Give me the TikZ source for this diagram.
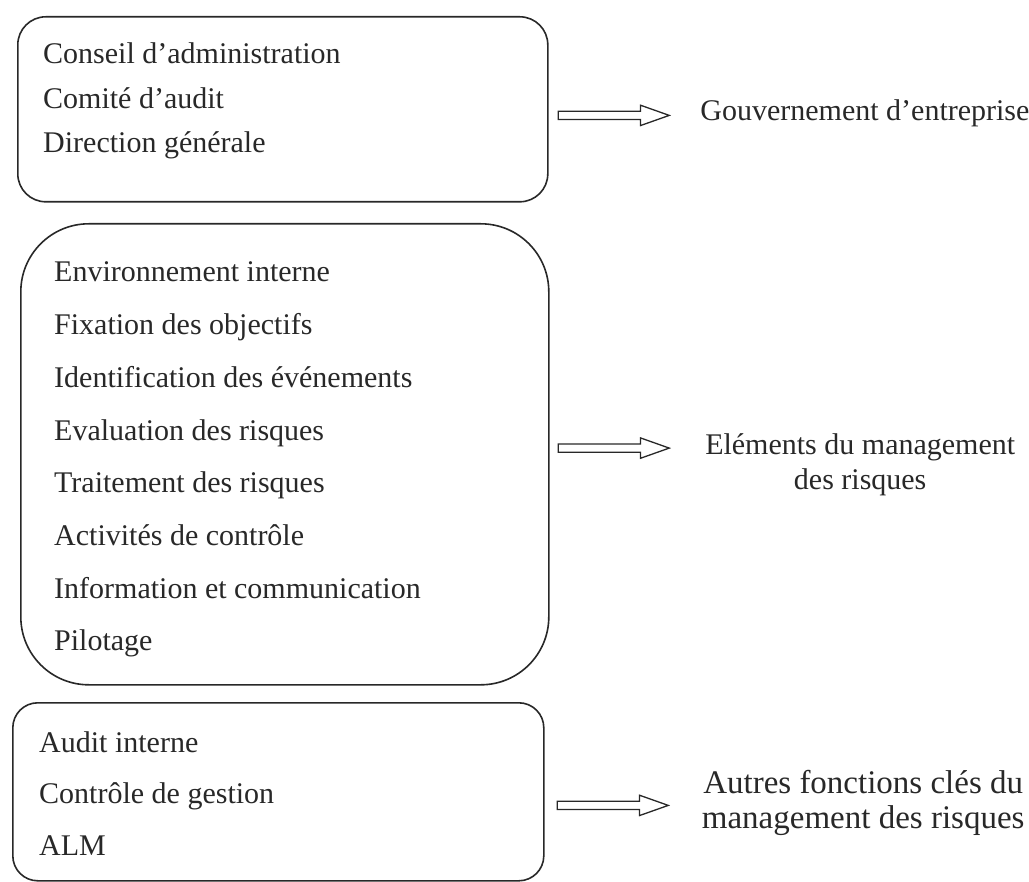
\documentclass[tikz,border=0pt]{standalone}
\usepackage{fontspec}
\setmainfont{Liberation Serif}
\usepackage{tikz}
\usetikzlibrary{shapes,arrows,positioning}
\definecolor{ink}{RGB}{40,40,40}
\tikzstyle{panel} = [rectangle, draw=ink, line width=1.6pt, anchor=north west, inner sep=0pt]
\tikzstyle{item} = [font=\fontsize{30}{36}\selectfont, text=ink, text height=21pt, text depth=7pt, inner sep=0pt, anchor=base west]
\tikzstyle{outtext} = [font=\fontsize{30}{35}\selectfont, text=ink, inner sep=0pt, align=center]
\tikzstyle{fatarrow} = [single arrow, draw=ink, line width=1.3pt, inner xsep=0pt, inner ysep=3.5pt, minimum width=0pt, minimum height=111pt, single arrow head extend=6pt, single arrow tip angle=39, anchor=tail]

\begin{document}
\begin{tikzpicture}[x=1pt, y=-1pt, node distance=16pt]
    \useasboundingbox (0,0) rectangle (1029,882);

    % gouvernement
    \node [panel, rounded corners=28pt, minimum width=530pt, minimum height=185pt] (gov) at (17,16) {};
    \node [item] (c1) at (43,64) {Conseil d'administration};
    \node [item, below=of c1.south west, anchor=north west] (c2) {Comité d'audit};
    \node [item, below=of c2.south west, anchor=north west] (c3) {Direction générale};

    % elements
    \node [panel, rounded corners=68pt, minimum width=528pt, minimum height=461pt] (erm) at (20,223) {};
    \node [item] (e1) at (54,282) {Environnement interne};
    \node [item, below=24.3pt of e1.south west, anchor=north west] (e2) {Fixation des objectifs};
    \node [item, below=24.3pt of e2.south west, anchor=north west] (e3) {Identification des événements};
    \node [item, below=24.3pt of e3.south west, anchor=north west] (e4) {Evaluation des risques};
    \node [item, below=24.3pt of e4.south west, anchor=north west] (e5) {Traitement des risques};
    \node [item, below=24.3pt of e5.south west, anchor=north west] (e6) {Activités de contrôle};
    \node [item, below=24.3pt of e6.south west, anchor=north west] (e7) {Information et communication};
    \node [item, below=24.3pt of e7.south west, anchor=north west] (e8) {Pilotage};

    % autres fonctions
    \node [panel, rounded corners=25pt, minimum width=531pt, minimum height=178pt] (oth) at (12,702) {};
    \node [item] (f1) at (39,752) {Audit interne};
    \node [item, below=23.5pt of f1.south west, anchor=north west] (f2) {Contrôle de gestion};
    \node [item, below=23.5pt of f2.south west, anchor=north west] (f3) {ALM};

    % arrows
    \node [fatarrow, xshift=9pt, yshift=-7pt] (a1) at (gov.east |- c2.base) {};
    \node [fatarrow, xshift=8pt, yshift=-8pt] (a2) at (erm.east |- e4.base) {};
    \node [fatarrow, xshift=12pt, yshift=-1.5pt] (a3) at (oth.east |- f2.base) {};

    \node [outtext, anchor=base west, xshift=29pt, yshift=-5pt] (govtxt) at (a1.tip) {Gouvernement d'entreprise};
    \node [outtext, anchor=north, xshift=189pt, yshift=15pt] (ermtxt) at (a2.tip) {Eléments du management\\des risques};
    \node [outtext, font=\fontsize{33}{35}\selectfont, anchor=north, xshift=193pt, yshift=35.5pt] (othtxt) at (a3.tip) {Autres fonctions clés du\\management des risques};
\end{tikzpicture}
\end{document}
